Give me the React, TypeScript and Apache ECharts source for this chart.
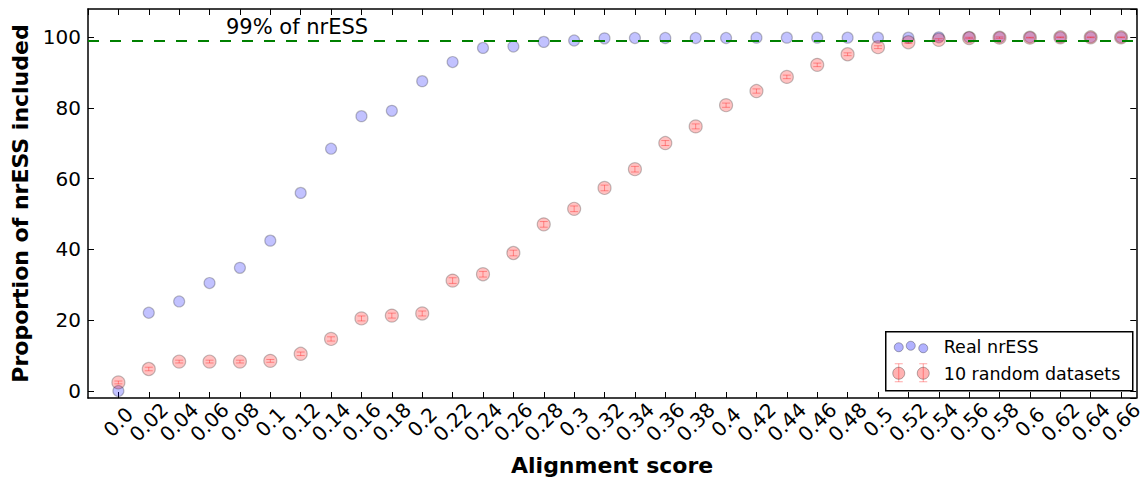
import React, { useEffect, useRef } from "react";
import * as echarts from "echarts";

const xValues = [
  0, 0.02, 0.04, 0.06, 0.08, 0.1, 0.12, 0.14, 0.16, 0.18, 0.2, 0.22, 0.24,
  0.26, 0.28, 0.3, 0.32, 0.34, 0.36, 0.38, 0.4, 0.42, 0.44, 0.46, 0.48, 0.5,
  0.52, 0.54, 0.56, 0.58, 0.6, 0.62, 0.64, 0.66,
];
const xTickLabels = [
  "0.0", "0.02", "0.04", "0.06", "0.08", "0.1", "0.12", "0.14", "0.16", "0.18",
  "0.2", "0.22", "0.24", "0.26", "0.28", "0.3", "0.32", "0.34", "0.36", "0.38",
  "0.4", "0.42", "0.44", "0.46", "0.48", "0.5", "0.52", "0.54", "0.56", "0.58",
  "0.6", "0.62", "0.64", "0.66",
];
const yTickValues = [0, 20, 40, 60, 80, 100];
const realNrESS = [
  0, 22.1, 25.3, 30.5, 34.8, 42.5, 56.0, 68.5, 77.7, 79.2, 87.6, 93.0, 97.0,
  97.4, 98.7, 99.1, 99.7, 99.8, 99.8, 99.8, 99.8, 99.9, 99.9, 99.9, 99.9, 99.9,
  99.9, 100, 100, 100, 100, 100, 100, 100,
];
const randomDatasets = [
  2.4, 6.2, 8.3, 8.3, 8.3, 8.5, 10.5, 14.7, 20.5, 21.3, 21.9, 31.2, 33.0, 39.0,
  47.1, 51.5, 57.4, 62.7, 70.1, 74.8, 80.8, 84.8, 88.8, 92.2, 95.2, 97.2, 98.6,
  99.3, 99.8, 99.9, 99.9, 100, 100, 100,
];
const randomErr = [
  0.4, 0.5, 0.4, 0.4, 0.4, 0.4, 0.5, 0.6, 0.7, 0.7, 0.7, 0.8, 0.8, 0.8, 0.8,
  0.8, 0.8, 0.8, 0.7, 0.7, 0.6, 0.6, 0.5, 0.5, 0.4, 0.4, 0.3, 0.3, 0.2, 0.2,
  0.1, 0.1, 0.1, 0.1,
];
const thresholdValue = 99;
const thresholdLabel = "99% of nrESS";
const seriesNames = ["Real nrESS", "10 random datasets"];
const xAxisTitle = "Alignment score";
const yAxisTitle = "Proportion of nrESS included";

const FONT = "DejaVu Sans";

export default function App() {
  const ref = useRef<HTMLDivElement>(null);

  useEffect(() => {
    if (!ref.current) return;
    const chart = echarts.init(ref.current, undefined, { renderer: "svg" });

    const blueFill = "rgba(0,0,255,0.3)";
    const redFill = "rgba(255,0,0,0.3)";
    const edge = "rgba(0,0,0,0.3)";
    const errColor = "rgba(255,0,0,0.35)";

    const xFormatter = (v: number) => {
      const idx = Math.round(v / 0.02);
      if (Math.abs(v - idx * 0.02) > 1e-6 || idx < 0 || idx >= xTickLabels.length) return "";
      return xTickLabels[idx];
    };
    const yFormatter = (v: number) => {
      const r = Math.round(v);
      if (Math.abs(v - r) > 1e-6 || yTickValues.indexOf(r) < 0) return "";
      return String(r);
    };

    const axisLine = { show: true, onZero: false, lineStyle: { color: "#000", width: 1.5 } };
    const axisTick = { show: true, inside: true, length: 6, lineStyle: { color: "#000", width: 1 } };

    const option: any = {
      animation: false,
      grid: { left: 88, right: 6, top: 9, bottom: 82 },
      xAxis: [
        {
          type: "value",
          min: -0.02,
          max: 0.67,
          interval: 0.02,
          position: "bottom",
          axisLine,
          axisTick,
          splitLine: { show: false },
          axisLabel: {
            rotate: 45,
            align: "center",
            verticalAlign: "middle",
            margin: 24,
            fontSize: 20,
            fontFamily: FONT,
            color: "#000",
            showMinLabel: false,
            showMaxLabel: false,
            formatter: xFormatter,
          },
          name: xAxisTitle,
          nameLocation: "middle",
          nameGap: 56,
          nameTextStyle: { fontSize: 22, fontWeight: "bold", fontFamily: FONT, color: "#000" },
        },
        {
          type: "value",
          min: -0.02,
          max: 0.67,
          interval: 0.02,
          position: "top",
          axisLine,
          axisTick,
          splitLine: { show: false },
          axisLabel: { show: false },
        },
      ],
      yAxis: [
        {
          type: "value",
          min: -2,
          max: 108,
          splitNumber: 5,
          position: "left",
          axisLine,
          axisTick,
          splitLine: { show: false },
          axisLabel: {
            margin: 7,
            fontSize: 20,
            fontFamily: FONT,
            color: "#000",
            showMinLabel: false,
            showMaxLabel: false,
            formatter: yFormatter,
          },
          name: yAxisTitle,
          nameLocation: "middle",
          nameGap: 56,
          nameRotate: 90,
          nameTextStyle: { fontSize: 22, fontWeight: "bold", fontFamily: FONT, color: "#000" },
        },
        {
          type: "value",
          min: -2,
          max: 108,
          splitNumber: 5,
          position: "right",
          axisLine,
          axisTick,
          splitLine: { show: false },
          axisLabel: { show: false },
        },
      ],
      series: [
        {
          name: seriesNames[0],
          type: "scatter",
          xAxisIndex: 0,
          yAxisIndex: 0,
          z: 2,
          symbol: "circle",
          symbolSize: 11,
          itemStyle: { color: blueFill, borderColor: edge, borderWidth: 1.2 },
          data: xValues.map((x, i) => [x, realNrESS[i]]),
        },
        {
          name: seriesNames[1] + " err",
          type: "custom",
          xAxisIndex: 0,
          yAxisIndex: 0,
          z: 3,
          silent: true,
          data: xValues.map((x, i) => [x, randomDatasets[i], randomErr[i]]),
          encode: { x: 0, y: 1 },
          renderItem: (params: any, api: any) => {
            const x = api.value(0);
            const y = api.value(1);
            const e = api.value(2);
            const top = api.coord([x, y + e]);
            const bot = api.coord([x, y - e]);
            const st = { stroke: errColor, lineWidth: 1 };
            return {
              type: "group",
              children: [
                { type: "line", shape: { x1: top[0], y1: top[1], x2: bot[0], y2: bot[1] }, style: st },
                { type: "line", shape: { x1: top[0] - 4, y1: top[1], x2: top[0] + 4, y2: top[1] }, style: st },
                { type: "line", shape: { x1: bot[0] - 4, y1: bot[1], x2: bot[0] + 4, y2: bot[1] }, style: st },
              ],
            };
          },
        },
        {
          name: seriesNames[1],
          type: "scatter",
          xAxisIndex: 0,
          yAxisIndex: 0,
          z: 4,
          symbol: "circle",
          symbolSize: 13,
          itemStyle: { color: redFill, borderColor: edge, borderWidth: 1.2 },
          data: xValues.map((x, i) => [x, randomDatasets[i]]),
          markLine: {
            silent: true,
            symbol: "none",
            label: { show: false },
            lineStyle: { color: "#008000", type: [11, 11], width: 2 },
            data: [{ yAxis: thresholdValue }],
          },
        },
      ],
      graphic: [
        {
          type: "text",
          left: 226,
          top: 16,
          z: 10,
          style: { text: thresholdLabel, fontSize: 21, fontFamily: FONT, fill: "#000" },
        },
        {
          type: "group",
          left: 885,
          top: 331,
          z: 20,
          children: [
            {
              type: "rect",
              shape: { x: 0, y: 0, width: 247, height: 59 },
              style: { fill: "#fff", stroke: "#000", lineWidth: 1.5 },
            },
            { type: "circle", shape: { cx: 13, cy: 15.5, r: 4.5 }, style: { fill: blueFill, stroke: edge, lineWidth: 1 } },
            { type: "circle", shape: { cx: 25, cy: 14, r: 4.5 }, style: { fill: blueFill, stroke: edge, lineWidth: 1 } },
            { type: "circle", shape: { cx: 37.5, cy: 16.5, r: 4.5 }, style: { fill: blueFill, stroke: edge, lineWidth: 1 } },
            { type: "line", shape: { x1: 13, y1: 32, x2: 13, y2: 50 }, style: { stroke: errColor, lineWidth: 1 } },
            { type: "line", shape: { x1: 9, y1: 32, x2: 17, y2: 32 }, style: { stroke: errColor, lineWidth: 1 } },
            { type: "line", shape: { x1: 9, y1: 50, x2: 17, y2: 50 }, style: { stroke: errColor, lineWidth: 1 } },
            { type: "circle", shape: { cx: 13, cy: 41.5, r: 6 }, style: { fill: redFill, stroke: edge, lineWidth: 1 } },
            { type: "line", shape: { x1: 37.5, y1: 32, x2: 37.5, y2: 50 }, style: { stroke: errColor, lineWidth: 1 } },
            { type: "line", shape: { x1: 33.5, y1: 32, x2: 41.5, y2: 32 }, style: { stroke: errColor, lineWidth: 1 } },
            { type: "line", shape: { x1: 33.5, y1: 50, x2: 41.5, y2: 50 }, style: { stroke: errColor, lineWidth: 1 } },
            { type: "circle", shape: { cx: 37.5, cy: 41.5, r: 6 }, style: { fill: redFill, stroke: edge, lineWidth: 1 } },
            {
              type: "text",
              x: 58,
              y: 15,
              style: { text: seriesNames[0], fontSize: 17.5, fontFamily: FONT, fill: "#000", verticalAlign: "middle" },
            },
            {
              type: "text",
              x: 58,
              y: 42,
              style: { text: seriesNames[1], fontSize: 17.5, fontFamily: FONT, fill: "#000", verticalAlign: "middle" },
            },
          ],
        },
      ],
    };

    chart.setOption(option);
    return () => chart.dispose();
  }, []);

  return (
    <div
      ref={ref}
      style={{ position: "fixed", left: 0, top: 0, width: 1146, height: 481, background: "#fff" }}
    />
  );
}
